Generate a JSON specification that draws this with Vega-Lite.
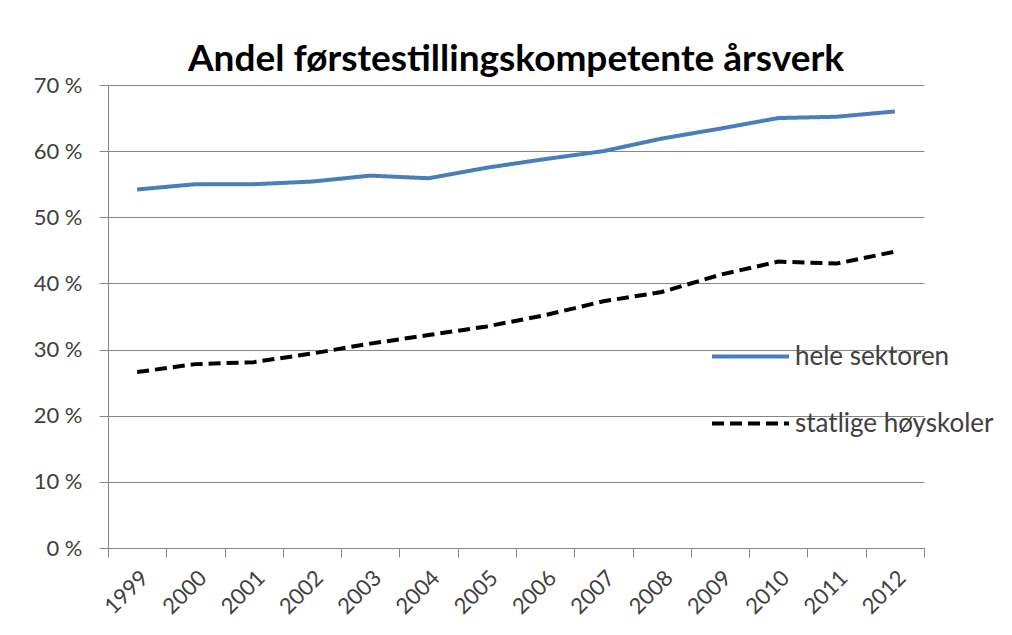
{
  "$schema": "https://vega.github.io/schema/vega-lite/v6.json",
  "autosize": "none",
  "width": 816,
  "height": 463,
  "padding": {"left": 108, "top": 85, "right": 88, "bottom": 87},
  "background": "white",
  "title": {
    "text": "Andel førstestillingskompetente årsverk",
    "font": "Lato",
    "fontSize": 37,
    "fontWeight": "bold",
    "color": "#000000",
    "anchor": "middle",
    "baseline": "alphabetic",
    "offset": -34
  },
  "data": {
    "values": [
      {"year": "1999", "series": "hele sektoren", "value": 54.2},
      {"year": "2000", "series": "hele sektoren", "value": 55.0},
      {"year": "2001", "series": "hele sektoren", "value": 55.0},
      {"year": "2002", "series": "hele sektoren", "value": 55.4},
      {"year": "2003", "series": "hele sektoren", "value": 56.3},
      {"year": "2004", "series": "hele sektoren", "value": 55.9},
      {"year": "2005", "series": "hele sektoren", "value": 57.5},
      {"year": "2006", "series": "hele sektoren", "value": 58.8},
      {"year": "2007", "series": "hele sektoren", "value": 60.0},
      {"year": "2008", "series": "hele sektoren", "value": 61.9},
      {"year": "2009", "series": "hele sektoren", "value": 63.4},
      {"year": "2010", "series": "hele sektoren", "value": 65.0},
      {"year": "2011", "series": "hele sektoren", "value": 65.2},
      {"year": "2012", "series": "hele sektoren", "value": 66.0},
      {"year": "1999", "series": "statlige høyskoler", "value": 26.6},
      {"year": "2000", "series": "statlige høyskoler", "value": 27.8},
      {"year": "2001", "series": "statlige høyskoler", "value": 28.1},
      {"year": "2002", "series": "statlige høyskoler", "value": 29.4},
      {"year": "2003", "series": "statlige høyskoler", "value": 30.9},
      {"year": "2004", "series": "statlige høyskoler", "value": 32.2},
      {"year": "2005", "series": "statlige høyskoler", "value": 33.5},
      {"year": "2006", "series": "statlige høyskoler", "value": 35.2},
      {"year": "2007", "series": "statlige høyskoler", "value": 37.3},
      {"year": "2008", "series": "statlige høyskoler", "value": 38.7},
      {"year": "2009", "series": "statlige høyskoler", "value": 41.3},
      {"year": "2010", "series": "statlige høyskoler", "value": 43.3},
      {"year": "2011", "series": "statlige høyskoler", "value": 43.0},
      {"year": "2012", "series": "statlige høyskoler", "value": 44.8}
    ]
  },
  "mark": {"type": "line", "strokeWidth": 4, "strokeCap": "butt"},
  "encoding": {
    "x": {
      "field": "year",
      "type": "ordinal",
      "bandPosition": 0.5,
      "scale": {"type": "band", "paddingInner": 0, "paddingOuter": 0},
      "axis": {
        "title": null,
        "labelAngle": -45,
        "labelAlign": "right",
        "labelBaseline": "top",
        "labelFont": "Lato",
        "labelFontSize": 22,
        "labelColor": "#404040",
        "labelPadding": 10,
        "tickBand": "extent",
        "tickSize": 9,
        "tickColor": "#868686",
        "domainColor": "#868686",
        "grid": false
      }
    },
    "y": {
      "field": "value",
      "type": "quantitative",
      "scale": {"domain": [0, 70], "nice": false},
      "axis": {
        "title": null,
        "values": [0, 10, 20, 30, 40, 50, 60, 70],
        "labelExpr": "datum.value + ' %'",
        "labelFont": "Lato",
        "labelFontSize": 22,
        "labelColor": "#404040",
        "labelPadding": 17,
        "tickSize": 9,
        "tickColor": "#868686",
        "domainColor": "#868686",
        "gridColor": "#868686",
        "grid": true
      }
    },
    "color": {
      "field": "series",
      "type": "nominal",
      "scale": {"domain": ["hele sektoren", "statlige høyskoler"], "range": ["#4a7ebb", "#000000"]},
      "legend": {
        "title": null,
        "orient": "none",
        "legendX": 602,
        "legendY": 231,
        "symbolType": "stroke",
        "symbolSize": 5929,
        "symbolStrokeWidth": 4,
        "labelFont": "Lato",
        "labelFontSize": 26,
        "labelColor": "#404040",
        "labelOffset": 4,
        "labelLimit": 0,
        "rowPadding": 13,
        "padding": 0
      }
    },
    "strokeDash": {
      "field": "series",
      "type": "nominal",
      "scale": {"domain": ["hele sektoren", "statlige høyskoler"], "range": [[1, 0], [12, 6]]},
      "legend": null
    }
  },
  "config": {
    "view": {"stroke": null},
    "axis": {"gridWidth": 1, "domainWidth": 1, "tickWidth": 1}
  }
}
